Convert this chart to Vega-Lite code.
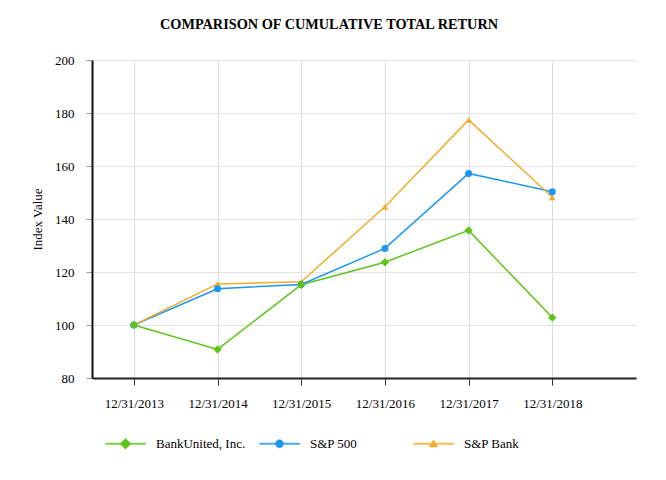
{
  "$schema": "https://vega.github.io/schema/vega-lite/v6.json",
  "width": 544,
  "height": 318,
  "autosize": {"type": "none"},
  "padding": {"left": 92, "top": 60, "right": 30, "bottom": 102},
  "background": "white",
  "title": {
    "text": "COMPARISON OF CUMULATIVE TOTAL RETURN",
    "font": "Liberation Serif",
    "fontSize": 14.3,
    "fontWeight": "bold",
    "color": "#000000",
    "anchor": "middle",
    "dx": -35,
    "offset": 22
  },
  "config": {
    "view": {"stroke": null},
    "font": "Liberation Serif"
  },
  "data": {
    "values": [
      {"year": 2013, "series": "BankUnited, Inc.", "value": 100},
      {"year": 2014, "series": "BankUnited, Inc.", "value": 90.8},
      {"year": 2015, "series": "BankUnited, Inc.", "value": 115.2},
      {"year": 2016, "series": "BankUnited, Inc.", "value": 123.7},
      {"year": 2017, "series": "BankUnited, Inc.", "value": 135.7},
      {"year": 2018, "series": "BankUnited, Inc.", "value": 102.8},
      {"year": 2013, "series": "S&P 500", "value": 100},
      {"year": 2014, "series": "S&P 500", "value": 113.7},
      {"year": 2015, "series": "S&P 500", "value": 115.3},
      {"year": 2016, "series": "S&P 500", "value": 128.9},
      {"year": 2017, "series": "S&P 500", "value": 157.2},
      {"year": 2018, "series": "S&P 500", "value": 150.3},
      {"year": 2013, "series": "S&P Bank", "value": 100},
      {"year": 2014, "series": "S&P Bank", "value": 115.5},
      {"year": 2015, "series": "S&P Bank", "value": 116.3},
      {"year": 2016, "series": "S&P Bank", "value": 144.6},
      {"year": 2017, "series": "S&P Bank", "value": 177.4},
      {"year": 2018, "series": "S&P Bank", "value": 148.2}
    ]
  },
  "encoding": {
    "x": {
      "field": "year",
      "type": "quantitative",
      "scale": {"domain": [2012.5, 2019], "nice": false, "zero": false},
      "axis": {
        "title": null,
        "values": [2013, 2014, 2015, 2016, 2017, 2018],
        "labelExpr": "'12/31/' + datum.value",
        "labelFont": "Liberation Serif",
        "labelFontSize": 13,
        "labelColor": "#000000",
        "labelPadding": 12,
        "tickSize": 7,
        "tickColor": "#333333",
        "domainColor": "#222222",
        "domainWidth": 2,
        "grid": true,
        "gridColor": "#dddddd"
      }
    },
    "y": {
      "field": "value",
      "type": "quantitative",
      "scale": {"domain": [80, 200], "nice": false, "zero": false},
      "axis": {
        "title": "Index Value",
        "titleFont": "Liberation Serif",
        "titleFontSize": 13,
        "titleFontWeight": "normal",
        "titleColor": "#000000",
        "titlePadding": 10,
        "values": [80, 100, 120, 140, 160, 180, 200],
        "labelFont": "Liberation Serif",
        "labelFontSize": 13,
        "labelColor": "#000000",
        "labelPadding": 12,
        "tickSize": 6,
        "tickColor": "#999999",
        "domainColor": "#111111",
        "domainWidth": 2,
        "grid": true,
        "gridColor": "#e3e3e3"
      }
    }
  },
  "layer": [
    {
      "mark": {"type": "line", "strokeWidth": 1.5},
      "encoding": {
        "color": {
          "field": "series",
          "type": "nominal",
          "scale": {
            "domain": ["BankUnited, Inc.", "S&P 500", "S&P Bank"],
            "range": ["#5ec41a", "#1d97f0", "#f2ad2b"]
          },
          "legend": {
            "orient": "none",
            "legendX": 13,
            "legendY": 363,
            "direction": "horizontal",
            "columns": 3,
            "gridAlign": "all",
            "title": null,
            "labelFont": "Liberation Serif",
            "labelFontSize": 13,
            "labelColor": "#000000",
            "symbolSize": 1600,
            "symbolStrokeWidth": 1,
            "columnPadding": 12,
            "labelOffset": 10,
            "encode": {
              "symbols": {
                "update": {
                  "shape": {"signal": "datum.value === 'BankUnited, Inc.' ? 'M-1,-0.03H1V0.03H-1Z M0,-0.27L0.27,0L0,0.27L-0.27,0Z' : datum.value === 'S&P 500' ? 'M-1,-0.03H1V0.03H-1Z M0,-0.2A0.2,0.2 0 1,1 0,0.2A0.2,0.2 0 1,1 0,-0.2Z' : 'M-1,-0.03H1V0.03H-1Z M0,-0.2L0.21,0.16L-0.21,0.16Z'"},
                  "fill": {"signal": "scale('color', datum.value)"},
                  "strokeWidth": {"value": 0.5}
                }
              }
            }
          }
        }
      }
    },
    {
      "transform": [{"filter": "datum.series === 'S&P Bank'"}],
      "mark": {"type": "point", "filled": true, "size": 45, "opacity": 1, "shape": "triangle-up", "color": "#f2ad2b"}
    },
    {
      "transform": [{"filter": "datum.series === 'S&P 500'"}],
      "mark": {"type": "point", "filled": true, "size": 50, "opacity": 1, "shape": "circle", "color": "#1d97f0"}
    },
    {
      "transform": [{"filter": "datum.series === 'BankUnited, Inc.'"}],
      "mark": {"type": "point", "filled": true, "size": 70, "opacity": 1, "shape": "diamond", "color": "#5ec41a"}
    }
  ]
}
